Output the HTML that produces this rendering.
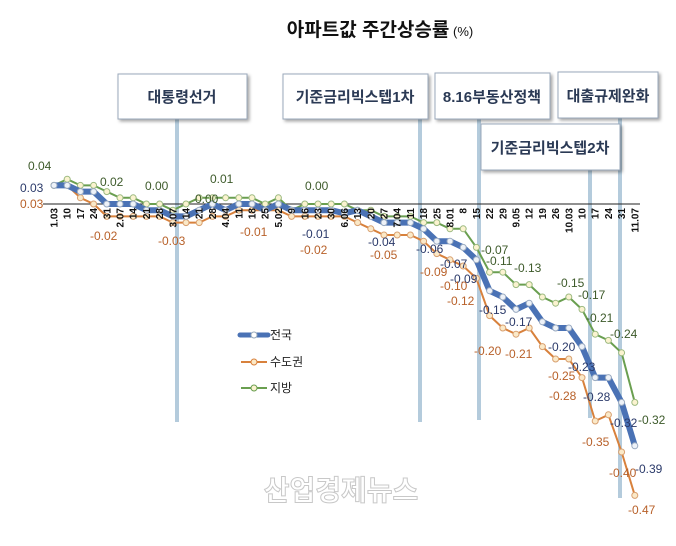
<!DOCTYPE html>
<html><head><meta charset="utf-8"><style>
body{margin:0;background:#fff;}
svg{display:block;font-family:"Liberation Sans","Noto Sans CJK KR",sans-serif;}
</style></head><body>
<svg id="s" width="676" height="546" xmlns="http://www.w3.org/2000/svg">
<defs><filter id="sh" x="-10%" y="-10%" width="130%" height="140%"><feDropShadow dx="2" dy="2" stdDeviation="1.5" flood-color="#000" flood-opacity="0.35"/></filter></defs>
<text x="380" y="36" text-anchor="middle" font-size="19" font-weight="bold" fill="#111">아파트값 주간상승률<tspan font-size="13" font-weight="normal"> (%)</tspan></text>
<g stroke="#b4cbdc" stroke-width="4">
<line x1="177" y1="118" x2="177" y2="422"/>
<line x1="420" y1="118" x2="420" y2="422"/>
<line x1="479" y1="118" x2="479" y2="420"/>
<line x1="590" y1="168" x2="590" y2="418"/>
<line x1="620" y1="118" x2="620" y2="498"/>
</g>
<g font-size="15" font-weight="bold" fill="#2b3a55" text-anchor="middle">
<rect x="118" y="74" width="129" height="45" fill="#fff" stroke="#9aa8bb" filter="url(#sh)"/><text x="182" y="102">대통령선거</text>
<rect x="283" y="74" width="145" height="45" fill="#fff" stroke="#9aa8bb" filter="url(#sh)"/><text x="355" y="102">기준금리빅스텝1차</text>
<rect x="435" y="73" width="115" height="46" fill="#fff" stroke="#9aa8bb" filter="url(#sh)"/><text x="492" y="102">8.16부동산정책</text>
<rect x="558" y="72" width="100" height="46" fill="#fff" stroke="#9aa8bb" filter="url(#sh)"/><text x="608" y="101">대출규제완화</text>
<rect x="481" y="124" width="139" height="46" fill="#fff" stroke="#9aa8bb" filter="url(#sh)"/><text x="550" y="153">기준금리빅스텝2차</text>
</g>
<line x1="43" y1="204" x2="640" y2="204" stroke="#222" stroke-width="1"/>
<g id="series"></g>
<g id="ticks" font-size="10" font-weight="bold" fill="#111"></g>
<g id="labels" font-size="12"></g>
<g font-size="12" fill="#222">
<line x1="240" y1="335" x2="268" y2="335" stroke="#4a72b5" stroke-width="5" stroke-linecap="round"/><circle cx="254" cy="335" r="3" fill="#fff" stroke="#9ab"/>
<text x="270" y="339">전국</text>
<line x1="241" y1="362" x2="267" y2="362" stroke="#d8813c" stroke-width="2"/><circle cx="254" cy="362" r="3" fill="#fbe9c8" stroke="#d8813c"/>
<text x="270" y="366">수도권</text>
<line x1="241" y1="388" x2="267" y2="388" stroke="#6a9f50" stroke-width="2"/><circle cx="254" cy="388" r="3" fill="#fbf3d0" stroke="#6a9f50"/>
<text x="270" y="392">지방</text>
</g>
<text x="341" y="500" text-anchor="middle" font-size="28" fill="#fff" stroke="#c8c8c8" stroke-width="1" font-weight="bold">산업경제뉴스</text>
</svg>
<script>
var t=["1.03","10","17","24","31","2.07","14","21","28","3.07","14","21","28","4.04","11","18","25","5.02","9","16","23","30","6.06","13","20","27","7.04","11","18","25","8.01","8","15","22","29","9.05","12","19","26","10.03","10","17","24","31","11.07"];
var B=[3,3,2,2,0,0,0,-1,-1,-2,-2,-1,0,-1,0,0,-1,0,-1,-1,-1,-1,-1.5,-1,-2,-3,-3,-3,-4,-6,-6,-7,-9,-14,-15,-17,-16,-19,-20,-20,-23,-28,-28,-32,-39];
var O=[3,3,1,0,-2,-2,-2,-2,-2,-3,-3,-3,-2,-2,-1,-1,-1,-1,-2,-2,-2,-2,-2,-3,-4,-5,-5,-5,-6,-8,-9,-10,-12,-18,-20,-21,-20,-23,-25,-25,-28,-35,-34,-40,-47];
var G=[3,4,3,3,2,1,1,0,0,-1,0,1,1,1,1,1,0,1,-1,0,0,0,0,-1,-1,-2,-2,-2,-3,-3,-4,-4,-7,-11,-11,-13,-13,-15,-16,-15,-17,-21,-22,-24,-32];
function X(i){return 54+i*13.2} function Y(v){return 204-v*6.2}
var ns="http://www.w3.org/2000/svg";
function el(p,n,a,txt){var e=document.createElementNS(ns,n);for(var k in a)e.setAttribute(k,a[k]);if(txt)e.textContent=txt;p.appendChild(e);return e}
var tk=document.getElementById('ticks');
t.forEach(function(s,i){el(tk,'text',{transform:'translate('+(X(i)+3.5)+',208) rotate(-90)','text-anchor':'end'},s)});
var sg=document.getElementById('series');
function ser(d,c,w,f,mc){var p=d.map(function(v,i){return X(i)+','+Y(v)}).join(' ');
el(sg,'polyline',{points:p,fill:'none',stroke:c,'stroke-width':w,'stroke-linejoin':'round'});
d.forEach(function(v,i){el(sg,'circle',{cx:X(i),cy:Y(v),r:3,fill:f,stroke:mc,'stroke-width':1})})}
ser(O,'#d8813c',2,'#fbe9c8','#d8a070');
ser(G,'#6a9f50',2,'#fbf3d0','#9cba80');
ser(B,'#4a72b5',6,'#eef2f8','#9aaac0');
var L=document.getElementById('labels');
var lab=[
[20,192,'0.03','#2b3a6a'],[20,208,'0.03','#b8612a'],[28,170,'0.04','#3d5a2a'],[100,186,'0.02','#3d5a2a'],[145,190,'0.00','#3d5a2a'],
[90,240,'-0.02','#b8612a'],[158,245,'-0.03','#b8612a'],[210,183,'0.01','#3d5a2a'],[195,203,'0.00','#3d5a2a'],[240,236,'-0.01','#b8612a'],
[305,190,'0.00','#3d5a2a'],[302,238,'-0.01','#2b3a6a'],[300,254,'-0.02','#b8612a'],[368,246,'-0.04','#2b3a6a'],[370,259,'-0.05','#b8612a'],
[416,253,'-0.06','#2b3a6a'],[420,276,'-0.09','#b8612a'],[440,268,'-0.07','#2b3a6a'],[450,283,'-0.09','#2b3a6a'],[440,290,'-0.10','#b8612a'],
[447,305,'-0.12','#b8612a'],[481,254,'-0.07','#3d5a2a'],[486,265,'-0.11','#3d5a2a'],[514,272,'-0.13','#3d5a2a'],[479,314,'-0.15','#2b3a6a'],
[505,326,'-0.17','#2b3a6a'],[474,355,'-0.20','#b8612a'],[505,358,'-0.21','#b8612a'],[557,287,'-0.15','#3d5a2a'],[578,299,'-0.17','#3d5a2a'],
[586,322,'-0.21','#3d5a2a'],[610,338,'-0.24','#3d5a2a'],[548,351,'-0.20','#2b3a6a'],[568,371,'-0.23','#2b3a6a'],[548,380,'-0.25','#b8612a'],
[549,400,'-0.28','#b8612a'],[583,401,'-0.28','#2b3a6a'],[610,427,'-0.32','#2b3a6a'],[638,424,'-0.32','#3d5a2a'],[582,446,'-0.35','#b8612a'],
[609,477,'-0.40','#b8612a'],[635,473,'-0.39','#2b3a6a'],[628,514,'-0.47','#b8612a']];
lab.forEach(function(a){el(L,'text',{x:a[0],y:a[1],fill:a[3]},a[2])});
</script>
</body></html>
